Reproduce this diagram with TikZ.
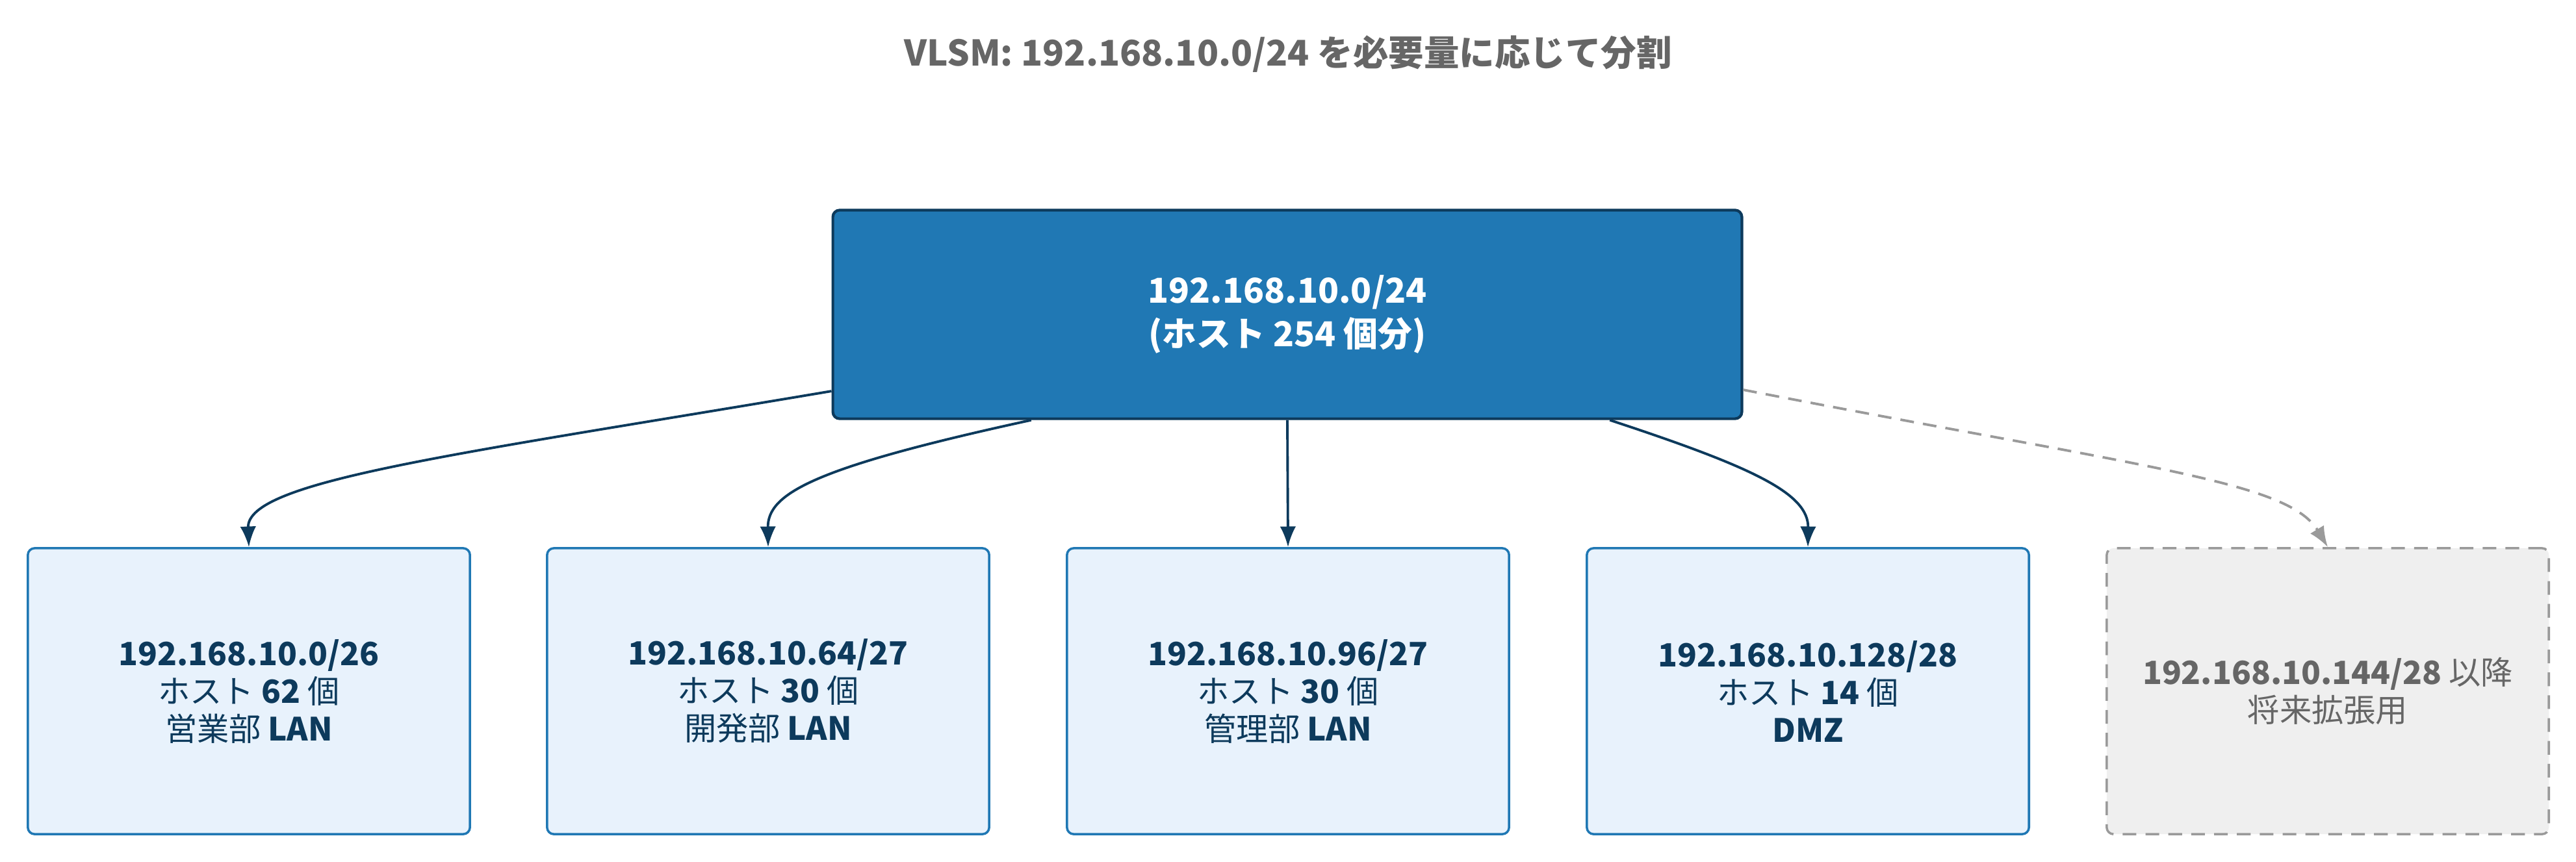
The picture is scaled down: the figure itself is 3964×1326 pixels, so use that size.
\documentclass[tikz,border=0pt]{standalone}
\usepackage{fontspec}
\setmainfont{Noto Sans CJK JP}
\usetikzlibrary{arrows.meta}
\definecolor{rootblue}{HTML}{2078B4}
\definecolor{navy}{HTML}{0D3A5C}
\definecolor{leaffill}{HTML}{E8F2FC}
\definecolor{spare}{HTML}{EFEFEF}
\definecolor{sparedraw}{HTML}{9A9A9A}
\definecolor{sparetext}{HTML}{666666}
\tikzset{
  rootbox/.style={draw=navy, line width=1.2pt, fill=rootblue, rounded corners=3pt,
    minimum width=13.98cm, minimum height=3.21cm, text=white, font=\bfseries\fontsize{15}{19}\selectfont, align=center},
  leafbox/.style={draw=rootblue, line width=1pt, fill=leaffill, rounded corners=3pt,
    minimum width=6.8cm, minimum height=4.4cm, text=navy, font=\fontsize{14}{16.5}\selectfont, align=center},
  sparebox/.style={leafbox, draw=sparedraw, dashed, dash pattern=on 6pt off 4pt, fill=spare, text=sparetext},
  link/.style={draw=navy, line width=1.1pt, -{Latex[length=9pt,width=7pt]}},
  sparelink/.style={draw=sparedraw, line width=1.1pt, dash pattern=on 6pt off 4pt, -{Latex[length=9pt,width=7pt]}}
}
\begin{document}
\begin{tikzpicture}[x=0.01cm, y=-0.01cm]
  \useasboundingbox (0,0) rectangle (3964,1326);
  \node [text=sparetext, font=\bfseries\fontsize{15.5}{18}\selectfont] (title) at (1982,83) {VLSM: 192.168.10.0/24 を必要量に応じて分割};

  \node [rootbox] (root) at (1981,484) {192.168.10.0/24\\(ホスト 254 個分)};

  \node [leafbox] (sales) at (383,1064) {\textbf{192.168.10.0/26}\\ホスト \textbf{62} 個\\営業部 \textbf{LAN}};
  \node [leafbox] (dev) at (1182,1064) {\textbf{192.168.10.64/27}\\ホスト \textbf{30} 個\\開発部 \textbf{LAN}};
  \node [leafbox] (mgmt) at (1982,1064) {\textbf{192.168.10.96/27}\\ホスト \textbf{30} 個\\管理部 \textbf{LAN}};
  \node [leafbox] (dmz) at (2782,1064) {\textbf{192.168.10.128/28}\\ホスト \textbf{14} 個\\\textbf{DMZ}};
  \node [sparebox] (future) at (3582,1064) {\textbf{192.168.10.144/28} 以降\\将来拡張用};

  % links
  \draw [link] ([yshift=-1.18cm]root.west) .. controls (700,700) and (379,740) .. (sales.north);
  \draw [link] ([xshift=-3.94cm]root.south) .. controls (1250,720) and (1181,760) .. (dev.north);
  \draw [link] (root.south) -- (mgmt.north);
  \draw [link] ([xshift=4.96cm]root.south) .. controls (2700,720) and (2783,760) .. (dmz.north);
  \draw [sparelink] ([yshift=-1.16cm]root.east) .. controls (3300,720) and (3520,740) .. (future.north);
\end{tikzpicture}
\end{document}
